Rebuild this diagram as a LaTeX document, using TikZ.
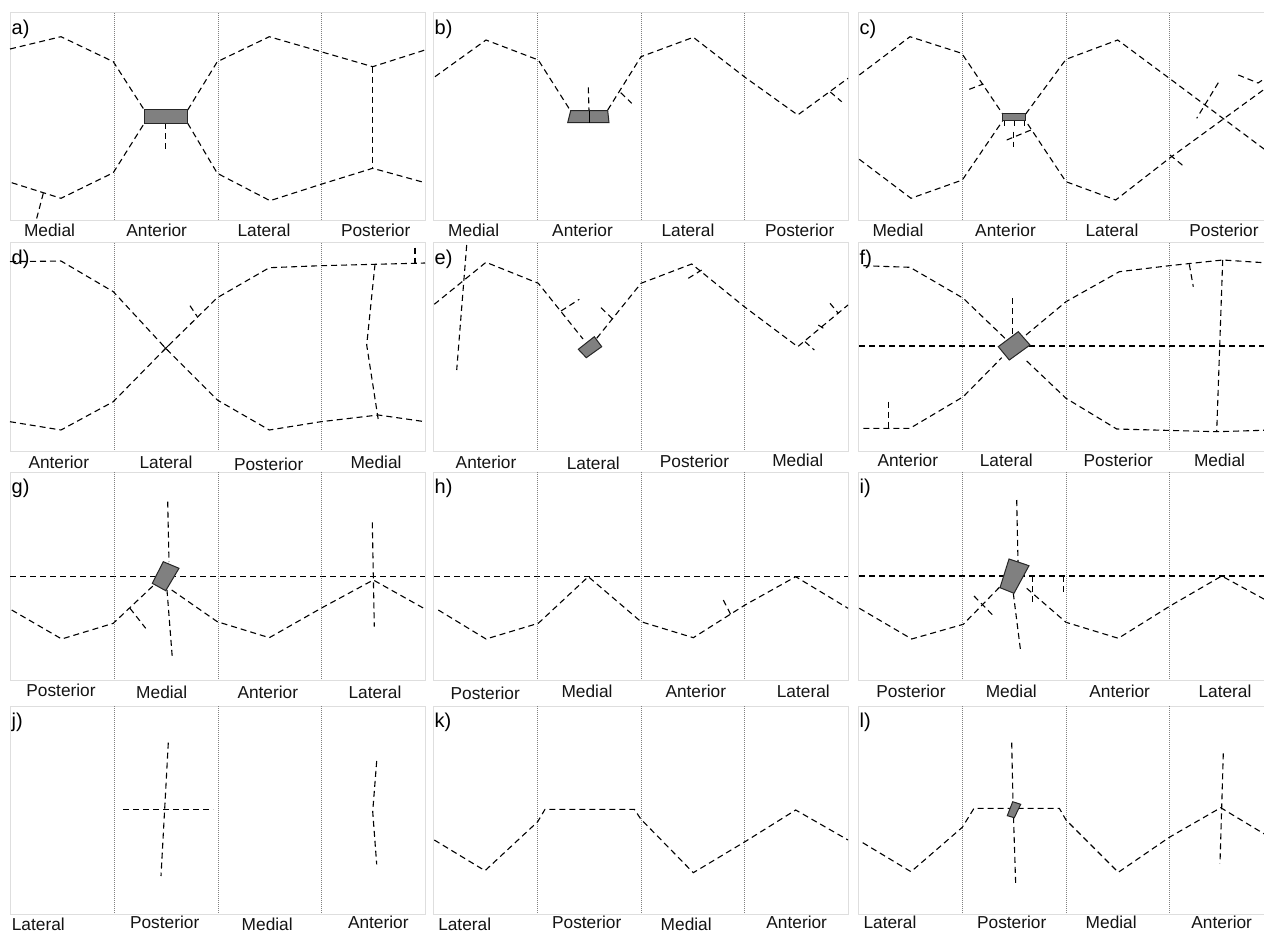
\documentclass[tikz,border=0pt]{standalone}
\usepackage{fontspec}
\setmainfont{Liberation Sans}
\definecolor{boxgray}{gray}{0.5}
\definecolor{framegray}{gray}{0.87}
\definecolor{divgray}{gray}{0.5}
\definecolor{labcol}{gray}{0.08}
\newcommand{\pframe}{%
  \draw[pfr] (0,0) rectangle (415,208);
  \foreach \dx in {104,208,311} \draw[divl] (\dx,0) -- (\dx,208);}
\tikzset{
  ln/.style={dash pattern=on 6pt off 4pt, line width=1.1pt, black},
  bx/.style={fill=boxgray, draw=black!85, line width=1pt},
  pfr/.style={draw=framegray, line width=1pt},
  divl/.style={draw=divgray, line width=0.7pt, dash pattern=on 1pt off 1pt},
  alab/.style={anchor=base, font=\fontsize{17.3}{19}\selectfont, text=labcol, inner sep=0pt},
  plab/.style={anchor=base west, font=\fontsize{20}{22}\selectfont, text=black, inner sep=0pt},
  tk/.style={line width=0.8pt, black}
}
\begin{document}
\begin{tikzpicture}[x=1pt,y=-1pt]
\clip (0,0) rectangle (1264,933);
\fill[white] (0,0) rectangle (1264,933);
% ---------------- a
\begin{scope}[shift={(10,13)}]
\pframe
\node[plab] (pa) at (1.5,22) {a)};
\draw[ln] (0,36) -- (51,23.7) -- (103.3,48.7) -- (134.3,97);
\draw[ln] (177.7,97) -- (207.3,48.7) -- (259.3,23.7) -- (311,38.7) -- (362.7,53.7) -- (415,37);
\draw[ln] (362.7,53.7) -- (362.7,155.3);
\draw[ln] (1.7,169.7) -- (51,185.3) -- (103.3,159.7) -- (134.3,110.3);
\draw[ln] (177.7,110.3) -- (207.3,160.3) -- (260,187.7) -- (311,171.3) -- (362.7,155.3) -- (415,169.7);
\draw[ln] (155.7,110.3) -- (155.7,137);
\draw[ln] (33.3,180.3) -- (26,208);
\draw[bx] (134.3,97) rectangle (177.7,110.3);
\node[alab] (a1) at (39.5,223.5) {Medial};
\node[alab] (a2) at (146.7,223.5) {Anterior};
\node[alab] (a3) at (254,223.5) {Lateral};
\node[alab] (a4) at (365.7,223.5) {Posterior};
\end{scope}
% ---------------- b
\begin{scope}[shift={(433,13)}]
\pframe
\node[plab] (pb) at (1.5,22) {b)};
\draw[ln] (2,63.7) -- (53,27) -- (105.3,47) -- (137,97);
\draw[ln] (174.7,97) -- (208,43.7) -- (260.3,24.3) -- (312,64.3) -- (364.7,102) -- (415,65.3);
\draw[ln] (155.3,74.3) -- (156,97.7);
\draw[ln] (187.7,79.7) -- (198.7,90.3);
\draw[ln] (397.3,79) -- (408.7,88.7);
\draw[bx] (137.7,97.7) -- (174.7,97.7) -- (176,109.7) -- (134.7,109.7) -- cycle;
\draw[tk] (156,97.7) -- (156,109.7);
\node[alab] (b1) at (40.7,223.5) {Medial};
\node[alab] (b2) at (149.5,223.5) {Anterior};
\node[alab] (b3) at (255,223.5) {Lateral};
\node[alab] (b4) at (366.7,223.5) {Posterior};
\end{scope}
% ---------------- c
\begin{scope}[shift={(858,13)}]
\pframe
\node[plab] (pc) at (1.5,22) {c)};
\draw[ln] (1.3,62) -- (52,23.7) -- (103.7,40.3) -- (144.7,101);
\draw[ln] (167.7,101) -- (208,46.3) -- (259.7,27) -- (311.3,65.3) -- (408,137.5);
\draw[ln] (1.3,146.3) -- (53,185.3) -- (104.3,167) -- (144.7,107.7);
\draw[ln] (169.7,111) -- (208,168.7) -- (257.7,187) -- (311.3,145.3) -- (408,75);
\draw[ln] (111.3,76.3) -- (125.3,71);
\draw[ln] (148.7,127) -- (174.7,116.3);
\draw[ln] (155.3,118.7) -- (155.3,133.7);
\draw[ln] (360.3,69.7) -- (338.7,105.3);
\draw[ln] (312,142) -- (326.3,153.7);
\draw[ln] (380.3,62) -- (400,70) -- (406,66);
\draw[tk] (146.3,107.7) -- (146.3,113) (156,107.7) -- (156,113) (166,107.7) -- (166,113);
\draw[bx] (144.7,101) rectangle (167.7,107.7);
\node[alab] (c1) at (40,223.5) {Medial};
\node[alab] (c2) at (147.5,223.5) {Anterior};
\node[alab] (c3) at (254,223.5) {Lateral};
\node[alab] (c4) at (366,223.5) {Posterior};
\end{scope}
% ---------------- d
\begin{scope}[shift={(10,243)}]
\pframe
\node[plab] (pd) at (1.5,21.5) {d)};
\draw[ln] (0,18.7) -- (51,18) -- (103.3,48.7) -- (155.7,105.3) -- (207.3,157) -- (259.3,187) -- (311,178.7) -- (368.3,172) -- (415,178.7);
\draw[ln] (0,178.7) -- (51,187) -- (103.3,158.7) -- (155.7,105.3) -- (207.3,54.7) -- (259.3,24.7) -- (311,22.7) -- (365,21.3) -- (405,20.3) -- (415,20);
\draw[ln] (365,21.3) -- (356.7,102) -- (368.3,177);
\draw[ln] (405,4.7) -- (405,20.3);
\draw[ln] (180,62.7) -- (187.3,73.7);
\draw[tk] (152.7,102.3) -- (158.7,108.3) (152.7,108.3) -- (158.7,102.3);
\node[alab] (d1) at (48.8,225.7) {Anterior};
\node[alab] (d2) at (156,225.7) {Lateral};
\node[alab] (d3) at (258.7,227.3) {Posterior};
\node[alab] (d4) at (366,225.7) {Medial};
\end{scope}
% ---------------- e
\begin{scope}[shift={(433,243)}]
\pframe
\node[plab] (pe) at (1.5,21.5) {e)};
\draw[ln] (1.3,61.3) -- (53,19.3) -- (105.3,40.3) -- (150,96);
\draw[ln] (163.7,95.3) -- (208,40.3) -- (258.7,21) -- (311.3,63.7) -- (364.7,103.7) -- (415,62);
\draw[ln] (33.7,2) -- (23.7,127);
\draw[ln] (128,68) -- (146.3,56.3);
\draw[ln] (168,64.7) -- (179.7,76);
\draw[ln] (255.3,35.3) -- (268.7,27);
\draw[ln] (372,98.7) -- (381.3,107);
\draw[ln] (385.3,82) -- (392,86.3);
\draw[ln] (397,60.3) -- (405.3,70.3);
\draw[bx] (145.3,106.3) -- (153.3,114.7) -- (168.7,103.7) -- (161.3,93.7) -- cycle;
\node[alab] (e1) at (53,225.7) {Anterior};
\node[alab] (e2) at (160.3,226.3) {Lateral};
\node[alab] (e3) at (261.5,224) {Posterior};
\node[alab] (e4) at (364.8,223.7) {Medial};
\end{scope}
% ---------------- f
\begin{scope}[shift={(858,243)}]
\pframe
\node[plab] (pf) at (1.5,21.5) {f)};
\draw[ln] (1.3,103) -- (415,103);
\draw[ln] (5.3,22.7) -- (52,24.3) -- (105.3,55.3) -- (148.7,97);
\draw[ln] (168.7,118) -- (208,155.3) -- (258.7,186) -- (358.7,188.7) -- (415,187);
\draw[ln] (5.3,185.3) -- (52,185.3) -- (105.3,153.7) -- (143.7,114.7);
\draw[ln] (168,92) -- (208,58.7) -- (261.3,28.7) -- (311.3,22.7) -- (364.7,17) -- (415,20.3);
\draw[ln] (364.7,17) -- (358.7,188.7);
\draw[ln] (331.3,21.3) -- (335.3,43.7);
\draw[ln] (30.3,158.7) -- (30.3,185.3);
\draw[ln] (154.3,55.3) -- (154.3,92);
\draw[bx] (140.3,103.7) -- (151.3,117) -- (172,102) -- (160.3,88.7) -- cycle;
\node[alab] (f1) at (49.8,223.7) {Anterior};
\node[alab] (f2) at (148.3,223.7) {Lateral};
\node[alab] (f3) at (260.3,223.7) {Posterior};
\node[alab] (f4) at (361.5,223.7) {Medial};
\end{scope}
% ---------------- g
\begin{scope}[shift={(10,472)}]
\pframe
\node[plab] (pg) at (1.5,21.5) {g)};
\draw[ln] (0,104.7) -- (415,104.7);
\draw[ln] (157.7,29.7) -- (159,90);
\draw[ln] (157,118) -- (162.3,185.7);
\draw[ln] (1.7,138) -- (51.7,167) -- (103.3,151.3) -- (145,112);
\draw[ln] (161.7,118) -- (207.3,149.7) -- (259.3,165.7) -- (311,136.3) -- (363.3,108) -- (415,137);
\draw[ln] (362.3,50.3) -- (364.3,154.7);
\draw[ln] (120,136.3) -- (135.7,156.3);
\draw[bx] (142.3,111.3) -- (155.7,118.7) -- (169,96.3) -- (153.3,89.7) -- cycle;
\node[alab] (g1) at (51,224.7) {Posterior};
\node[alab] (g2) at (151.7,226.7) {Medial};
\node[alab] (g3) at (257.8,226.7) {Anterior};
\node[alab] (g4) at (365,226.7) {Lateral};
\end{scope}
% ---------------- h
\begin{scope}[shift={(433,472)}]
\pframe
\node[plab] (ph) at (1.5,21.5) {h)};
\draw[ln] (1.3,104.7) -- (415,104.7);
\draw[ln] (5.3,138) -- (53,167) -- (105.3,151.3) -- (155.3,104.7) -- (208,149.7) -- (260.3,165.7) -- (312,133) -- (362.7,104.7) -- (415,136.3);
\draw[ln] (290.3,128) -- (298,143);
\node[alab] (h1) at (52.2,227.3) {Posterior};
\node[alab] (h2) at (154,225.7) {Medial};
\node[alab] (h3) at (262.8,225.7) {Anterior};
\node[alab] (h4) at (370.3,225.7) {Lateral};
\end{scope}
% ---------------- i
\begin{scope}[shift={(858,472)}]
\pframe
\node[plab] (pi) at (1.5,21.5) {i)};
\draw[ln] (1.3,104) -- (415,104);
\draw[ln] (174.7,104) -- (174.7,129.7);
\draw[ln] (205.3,104) -- (205.3,121.3);
\draw[ln] (158.7,28) -- (160,90);
\draw[ln] (155.3,121.3) -- (162.7,179.7);
\draw[ln] (1.3,136.3) -- (53.7,167) -- (105.3,152.3) -- (142,114.7);
\draw[ln] (168.7,116.3) -- (208,150.3) -- (260.3,166.3) -- (312,134) -- (363.7,104) -- (415,132);
\draw[ln] (116,124) -- (136.3,144.7);
\draw[bx] (142,115.7) -- (156,121.3) -- (171,93.7) -- (151,87) -- cycle;
\node[alab] (i1) at (53,225.7) {Posterior};
\node[alab] (i2) at (153.3,225.7) {Medial};
\node[alab] (i3) at (261.7,225.7) {Anterior};
\node[alab] (i4) at (367,225.7) {Lateral};
\end{scope}
% ---------------- j
\begin{scope}[shift={(10,706)}]
\pframe
\node[plab] (pj) at (1.5,21.5) {j)};
\draw[ln] (113.3,103.3) -- (203.3,103.3);
\draw[ln] (158.3,36.7) -- (151,170);
\draw[ln] (366.7,55) -- (362.7,105.7) -- (366.7,158.3);
\node[alab] (j1) at (28.3,224.5) {Lateral};
\node[alab] (j2) at (154.7,222) {Posterior};
\node[alab] (j3) at (257.2,224.5) {Medial};
\node[alab] (j4) at (368.3,222) {Anterior};
\end{scope}
% ---------------- k
\begin{scope}[shift={(433,706)}]
\pframe
\node[plab] (pk) at (1.5,21.5) {k)};
\draw[ln] (1.3,134) -- (52,164.7) -- (104.7,115.7) -- (112,103.3) -- (201.3,103.3) -- (208,113.3) -- (260.3,166.7) -- (312,135.7) -- (362.7,104) -- (415,134);
\node[alab] (k1) at (31.7,224.5) {Lateral};
\node[alab] (k2) at (153.7,222) {Posterior};
\node[alab] (k3) at (253.2,224.5) {Medial};
\node[alab] (k4) at (363.7,222) {Anterior};
\end{scope}
% ---------------- l
\begin{scope}[shift={(858,706)}]
\pframe
\node[plab] (pl) at (1.5,21.5) {l)};
\draw[ln] (4.7,136.7) -- (53,165.7) -- (104.3,121.3) -- (116,102.3) -- (201.3,102.3) -- (208,114) -- (260.3,166.3) -- (311.3,131.3) -- (362.7,101.7) -- (408,129);
\draw[ln] (153.7,36.7) -- (155,96);
\draw[ln] (155.5,111) -- (157.7,179);
\draw[ln] (365.3,47.3) -- (362,157.3);
\draw[bx] (149.3,109.7) -- (156.3,111.7) -- (162.7,98.3) -- (154.7,95.7) -- cycle;
\node[alab] (l1) at (32,222.5) {Lateral};
\node[alab] (l2) at (153.7,222) {Posterior};
\node[alab] (l3) at (253.2,222.5) {Medial};
\node[alab] (l4) at (363.7,222) {Anterior};
\end{scope}
\end{tikzpicture}
\end{document}
